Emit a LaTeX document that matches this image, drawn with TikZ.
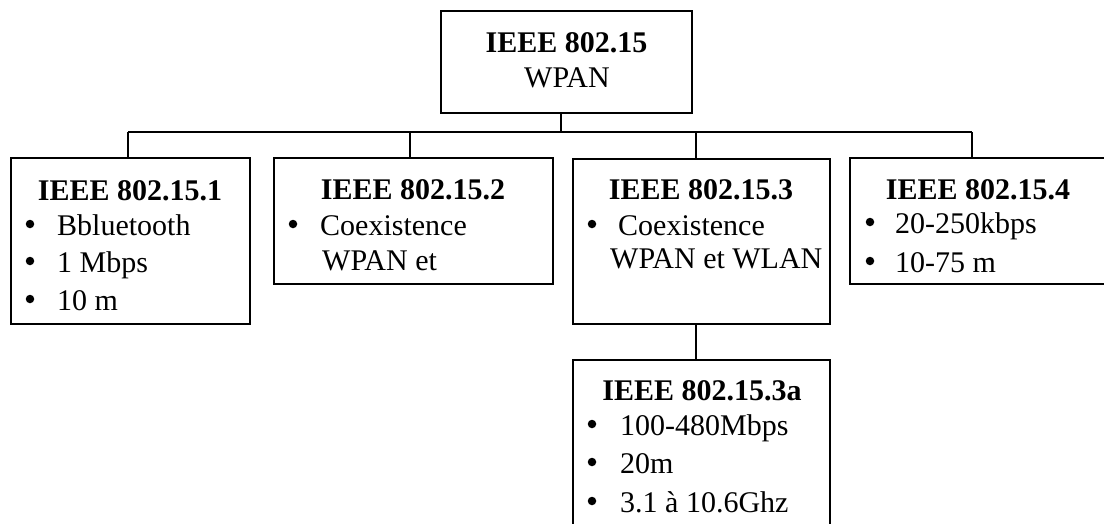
\documentclass[tikz,border=0pt]{standalone}
\usepackage{fontspec}
\setmainfont{Liberation Serif}
\begin{document}
\begin{tikzpicture}[x=1pt,y=-1pt,
  box/.style={draw, line width=2.8pt, rectangle, inner sep=0pt},
  conn/.style={line width=2.8pt},
  ttl/.style={anchor=base, inner sep=0pt, font=\fontsize{30}{35}\selectfont\bfseries},
  txt/.style={anchor=base west, inner sep=0pt, font=\fontsize{30}{35}\selectfont},
  bul/.style={circle, fill=black, inner sep=0pt, minimum size=8.5pt}]
\useasboundingbox (0,0) rectangle (1104,523);
\clip (0,0) rectangle (1104,523);
% boxes
\node[box, minimum width=251pt, minimum height=102pt] (top) at (566.5,62) {};
\node[box, minimum width=239pt, minimum height=166pt] (b1) at (130.5,241) {};
\node[box, minimum width=279pt, minimum height=126pt] (b2) at (413.5,221) {};
\node[box, minimum width=257pt, minimum height=165pt] (b3) at (701.5,241.5) {};
\node[box, minimum width=270pt, minimum height=126pt] (b4) at (985,221) {};
\node[box, minimum width=257pt, minimum height=180pt] (b5) at (701.5,450) {};
% junctions
\coordinate (j0) at (561,132);
\coordinate (j1) at (128,132);
\coordinate (j2) at (410,132);
\coordinate (j3) at (696,132);
\coordinate (j4) at (972,132);
\coordinate (j5) at (696,324);
% connectors
\draw[conn] (top.south -| j0) -- (j0);
\draw[conn] (j1) -- (j4);
\draw[conn] (j1) -- (j1 |- b1.north);
\draw[conn] (j2) -- (j2 |- b2.north);
\draw[conn] (j3) -- (j3 |- b3.north);
\draw[conn] (j4) -- (j4 |- b4.north);
\draw[conn] (b3.south -| j5) -- (j5 |- b5.north);
% top texts
\node[ttl] (t0a) at (566.5,52) {IEEE 802.15};
\node[ttl, font=\fontsize{30}{35}\selectfont] (t0b) at (567,87) {WPAN};
% box 1
\node[ttl] (t1) at (130,200) {IEEE 802.15.1};
\node[bul] (t1b1) at (30,224) {};
\node[txt] (t1a) at (57,235) {Bbluetooth};
\node[bul] (t1b2) at (30,261) {};
\node[txt] (t1c) at (57,272) {1 Mbps};
\node[bul] (t1b3) at (30,299) {};
\node[txt] (t1d) at (57,310) {10 m};
% box 2
\node[ttl] (t2) at (413,199) {IEEE 802.15.2};
\node[bul] (t2b1) at (293,224) {};
\node[txt] (t2a) at (320,235) {Coexistence};
\node[txt] (t2c) at (322,270) {WPAN et};
% box 3
\node[ttl] (t3) at (701,199) {IEEE 802.15.3};
\node[bul] (t3b1) at (592,224) {};
\node[txt] (t3a) at (618,235) {Coexistence};
\node[txt] (t3c) at (610,268) {WPAN et WLAN};
% box 4
\node[ttl] (t4) at (978,199) {IEEE 802.15.4};
\node[bul] (t4b1) at (870,222) {};
\node[txt] (t4a) at (895,233) {20-250kbps};
\node[bul] (t4b2) at (870,261) {};
\node[txt] (t4c) at (895,272) {10-75 m};
% box 5
\node[ttl] (t5) at (702,400) {IEEE 802.15.3a};
\node[bul] (t5b1) at (592,424) {};
\node[txt] (t5a) at (620,435) {100-480Mbps};
\node[bul] (t5b2) at (592,462) {};
\node[txt] (t5c) at (620,473) {20m};
\node[bul] (t5b3) at (592,501) {};
\node[txt] (t5d) at (620,512) {3.1 à 10.6Ghz};
\end{tikzpicture}
\end{document}
